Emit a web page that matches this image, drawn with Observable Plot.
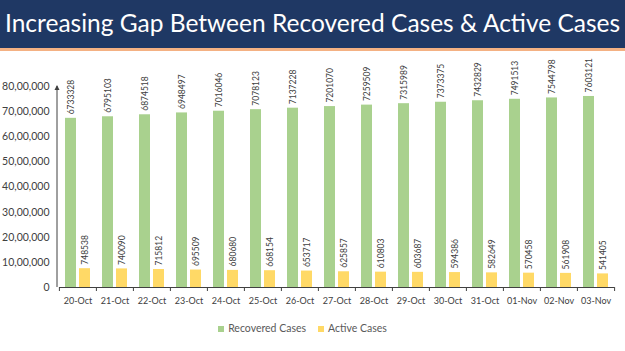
<!DOCTYPE html>
<html>
<head>
<meta charset="utf-8">
<script src="https://cdn.jsdelivr.net/npm/d3@7"></script>
<script src="https://cdn.jsdelivr.net/npm/@observablehq/plot@0.6"></script>
<style>
  html, body { margin: 0; padding: 0; background: #fff; }
  body { width: 625px; height: 351px; overflow: hidden; font-family: Lato, "Open Sans", sans-serif; }
  #title {
    height: 48px; background: #1f3864; color: #fff;
    border-bottom: 3px solid #f4b183; box-sizing: content-box;
    font-family: Lato, sans-serif; font-size: 24.5px; line-height: 46px;
    padding-left: 5px; white-space: nowrap;
  }
  #legend { display: flex; justify-content: center; gap: 12px; font-size: 10.5px; color: #595959; margin-top: 6px; padding-right: 20px; }
  #legend span.sw { display: inline-block; width: 6px; height: 6px; margin-right: 4px; vertical-align: 0px; }
</style>
</head>
<body>
<div id="title">Increasing Gap Between Recovered Cases &amp; Active Cases</div>
<div id="chart"></div>
<div id="legend"></div>
<script>
const dates = ["20-Oct","21-Oct","22-Oct","23-Oct","24-Oct","25-Oct","26-Oct","27-Oct","28-Oct","29-Oct","30-Oct","31-Oct","01-Nov","02-Nov","03-Nov"];
const recovered = [6733328,6795103,6874518,6948497,7016046,7078123,7137228,7201070,7259509,7315989,7373375,7432829,7491513,7544798,7603121];
const active = [748538,740090,715812,695509,680680,668154,653717,625857,610803,603687,594386,582649,570458,561908,541405];
const series = ["Recovered Cases","Active Cases"];
const colors = ["#a9d18e","#ffd966"];
const yTicks = [0,1000000,2000000,3000000,4000000,5000000,6000000,7000000,8000000];

function fmtIN(v) {
  if (v === 0) return "0";
  const s = String(Math.round(v));
  const last3 = s.slice(-3);
  let rest = s.slice(0, -3);
  const parts = [];
  while (rest.length > 2) { parts.unshift(rest.slice(-2)); rest = rest.slice(0, -2); }
  if (rest.length) parts.unshift(rest);
  return parts.join(",") + "," + last3;
}

const data = [];
dates.forEach((d, i) => {
  data.push({date: d, series: series[0], value: recovered[i]});
  data.push({date: d, series: series[1], value: active[i]});
});

const W = 625, ML = 57, MR = 10;
const step = (W - ML - MR) / dates.length;

const chart = Plot.plot({
  width: W, height: 265,
  marginLeft: ML, marginRight: MR, marginTop: 35, marginBottom: 29,
  style: {fontFamily: "Lato, 'Open Sans', sans-serif", background: "transparent"},
  fx: {domain: dates, padding: 0, label: null, axis: null},
  x: {domain: series, paddingInner: 0.2, paddingOuter: 0.34, axis: null},
  y: {domain: [0, 8000000], label: null, axis: null},
  color: {domain: series, range: colors},
  marks: [
    Plot.axisY({ticks: yTicks, tickFormat: fmtIN, tickSize: 0, tickPadding: 10, fontSize: 10.5, color: "#404040", label: null}),
    Plot.axisFx({anchor: "bottom", tickSize: 0, tickPadding: 10, fontSize: 9, color: "#404040", label: null}),
    Plot.axisFx({anchor: "bottom", tickSize: 4, tickFormat: () => "", dx: -step / 2, color: "#404040", label: null}),
    Plot.axisFx({anchor: "bottom", ticks: [dates[dates.length - 1]], tickSize: 4, tickFormat: () => "", dx: step / 2, color: "#404040", label: null}),
    Plot.barY(data, {fx: "date", x: "series", y: "value", fill: "series"}),
    Plot.ruleY([0], {stroke: "#404040", strokeWidth: 1}),
    Plot.text(data, {fx: "date", x: "series", y: "value", text: d => String(d.value), rotate: -90, textAnchor: "start", dy: -4, fontSize: 8.5, fill: "#404040"})
  ]
});
document.getElementById("chart").appendChild(chart);

// y axis line with arrow head, using the plot's y scale
const ys = chart.scale("y");
const y0 = ys.apply(0), y1 = ys.apply(8000000);
const svg = d3.select(chart);
svg.append("line").attr("x1", ML).attr("x2", ML).attr("y1", y0).attr("y2", y1)
  .attr("stroke", "#404040").attr("stroke-width", 1);
svg.append("path").attr("d", `M${ML - 2.5},${y1 + 4}L${ML},${y1 - 1}L${ML + 2.5},${y1 + 4}Z`).attr("fill", "#404040");

const legend = document.getElementById("legend");
series.forEach((s, i) => {
  const item = document.createElement("div");
  item.innerHTML = `<span class="sw" style="background:${colors[i]}"></span>${s}`;
  legend.appendChild(item);
});
</script>
</body>
</html>
